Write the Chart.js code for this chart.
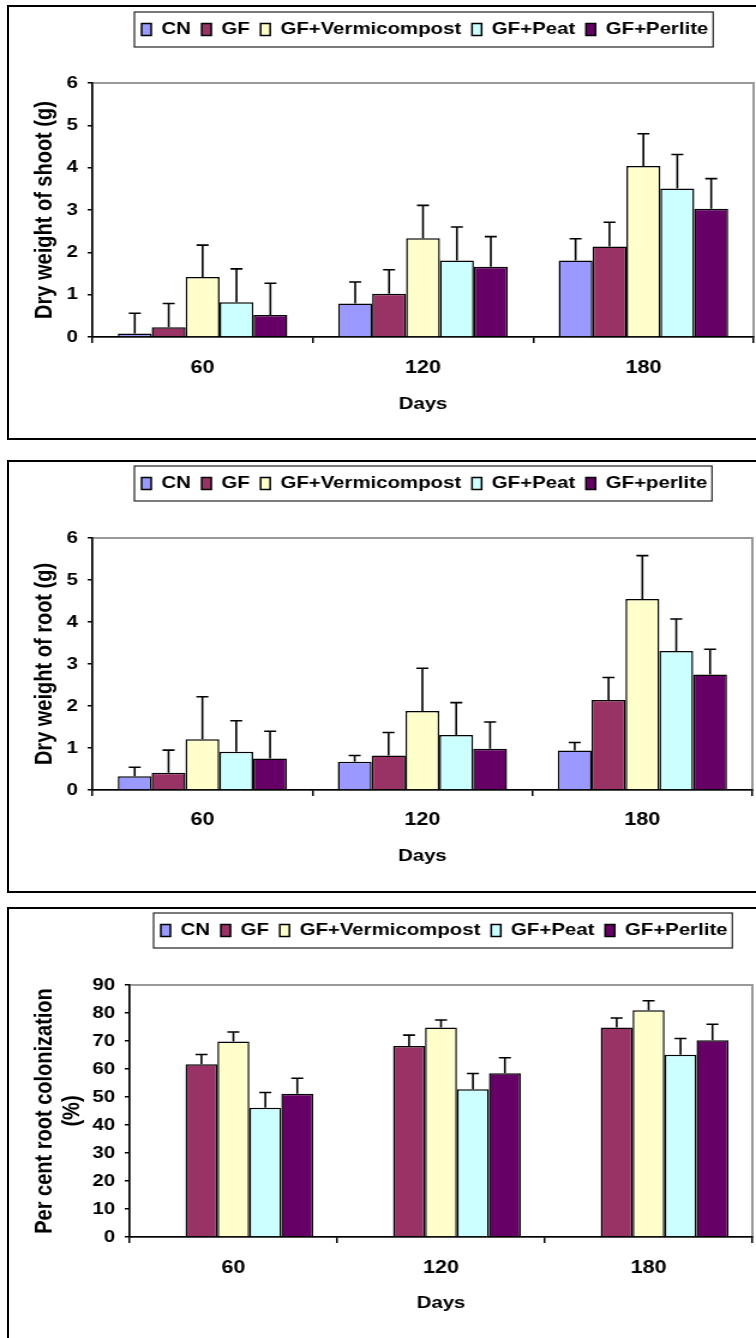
<!DOCTYPE html>
<html>
<head>
<meta charset="utf-8">
<script src="https://cdn.jsdelivr.net/npm/chart.js@4.4.1/dist/chart.umd.min.js"></script>
<style>
  html, body { margin: 0; padding: 0; background: #fff; }
  body { width: 756px; height: 1338px; overflow: hidden; position: relative; }
  .frame { position: absolute; left: 7px; width: 800px; border: 2px solid #000; box-sizing: border-box; }
  canvas { position: absolute; left: 0; }
</style>
</head>
<body>
<div class="frame" style="top:5px;height:435px"></div>
<div class="frame" style="top:460px;height:433px"></div>
<div class="frame" style="top:907px;height:500px"></div>
<!-- the original figure is stretched sideways, so each canvas is drawn narrow and widened by css -->
<canvas id="shootChart" width="630" height="440" style="top:0px;width:756px;height:440px"></canvas>
<canvas id="rootChart" width="630" height="450" style="top:445px;width:756px;height:450px"></canvas>
<canvas id="colonChart" width="630" height="443" style="top:895px;width:756px;height:443px"></canvas>
<script>
// Set Data
const days = ["60", "120", "180"];
const treatments = ["CN", "GF", "GF+Vermicompost", "GF+Peat", "GF+Perlite"];
const rootNames = ["CN", "GF", "GF+Vermicompost", "GF+Peat", "GF+perlite"];
const barColors = ["#9999FF", "#993366", "#FFFFCC", "#CCFFFF", "#660066"];

// dry weight of shoot (g), one array per treatment (60, 120, 180 days)
const shootCN = [0.08, 0.79, 1.81];
const shootGF = [0.23, 1.02, 2.14];
const shootVermi = [1.42, 2.33, 4.04];
const shootPeat = [0.82, 1.81, 3.51];
const shootPerlite = [0.52, 1.66, 3.03];
const shootErrCN = [0.48, 0.51, 0.51];
const shootErrGF = [0.56, 0.57, 0.57];
const shootErrVermi = [0.75, 0.78, 0.76];
const shootErrPeat = [0.79, 0.79, 0.8];
const shootErrPerlite = [0.75, 0.71, 0.71];

// dry weight of root (g)
const rootCN = [0.33, 0.67, 0.94];
const rootGF = [0.41, 0.82, 2.14];
const rootVermi = [1.21, 1.88, 4.55];
const rootPeat = [0.91, 1.31, 3.31];
const rootPerlite = [0.75, 0.98, 2.75];
const rootErrCN = [0.21, 0.15, 0.19];
const rootErrGF = [0.54, 0.55, 0.54];
const rootErrVermi = [1.01, 1.02, 1.03];
const rootErrPeat = [0.74, 0.77, 0.76];
const rootErrPerlite = [0.65, 0.64, 0.6];

// per cent root colonization
const colonCN = [0, 0, 0];
const colonGF = [61.7, 68.2, 74.8];
const colonVermi = [69.8, 74.8, 81.0];
const colonPeat = [46.2, 52.8, 65.1];
const colonPerlite = [51.2, 58.5, 70.3];
const colonErrCN = [0, 0, 0];
const colonErrGF = [3.5, 3.9, 3.4];
const colonErrVermi = [3.4, 2.7, 3.4];
const colonErrPeat = [5.4, 5.6, 5.8];
const colonErrPerlite = [5.5, 5.5, 5.7];

const FONT = "'Liberation Sans', Arial, sans-serif";

// error bars, legend frame and plot frame
const excelLook = {
  id: "excelLook",
  beforeLayout(chart, args, opts) {
    const lg = chart.legend;
    if (lg && !lg._fixed) {
      const fit = lg.fit.bind(lg);
      lg.fit = function () {
        fit();
        this.height = opts.legendHeight;
      };
      lg._fixed = true;
    }
  },
  afterLayout(chart, args, opts) {
    const lg = chart.legend;
    const w = lg.right - lg.left;
    lg.left = opts.legendX - lg.options.labels.padding;
    lg.right = lg.left + w;
  },
  beforeDraw(chart) {
    const a = chart.chartArea;
    const ctx = chart.ctx;
    ctx.save();
    ctx.strokeStyle = "#999999";
    ctx.lineWidth = 2;
    ctx.strokeRect(a.left, a.top, a.right - a.left, a.bottom - a.top);
    ctx.restore();
  },
  afterDatasetsDraw(chart) {
    const ctx = chart.ctx;
    const yScale = chart.scales.y;
    ctx.save();
    ctx.strokeStyle = "#000";
    ctx.lineWidth = 1.6;
    chart.data.datasets.forEach((ds, i) => {
      const meta = chart.getDatasetMeta(i);
      meta.data.forEach((bar, j) => {
        const err = ds.errors[j];
        if (!err) return;
        const top = yScale.getPixelForValue(ds.data[j] + err);
        ctx.beginPath();
        ctx.moveTo(bar.x, bar.y);
        ctx.lineTo(bar.x, top);
        ctx.moveTo(bar.x - 5, top);
        ctx.lineTo(bar.x + 5, top);
        ctx.stroke();
      });
    });
    ctx.restore();
  },
  afterDraw(chart) {
    const lg = chart.legend;
    const boxes = lg.legendHitBoxes;
    if (!boxes || !boxes.length) return;
    const pad = lg.options.labels.padding;
    const first = boxes[0];
    const last = boxes[boxes.length - 1];
    const ctx = chart.ctx;
    ctx.save();
    ctx.strokeStyle = "#222";
    ctx.lineWidth = 1.2;
    ctx.strokeRect(
      first.left - 6,
      first.top - pad,
      last.left + last.width + 4 - (first.left - 6),
      first.height + 2 * pad
    );
    ctx.restore();
  },
};

function drawPanel(id, p) {
  return new Chart(id, {
    type: "bar",
    data: {
      labels: days,
      datasets: p.names.map((name, k) => ({
        label: name,
        data: p.means[k],
        errors: p.errors[k],
        backgroundColor: barColors[k],
        borderColor: "#000",
        borderWidth: 1.5,
        categoryPercentage: 5 / 6.5,
        barPercentage: 1,
      })),
    },
    options: {
      responsive: false,
      animation: false,
      devicePixelRatio: 1,
      layout: { padding: { top: p.top, left: 0, right: p.right, bottom: 0 } },
      plugins: {
        legend: {
          position: "top",
          align: "start",
          labels: {
            color: "#000",
            boxWidth: 8,
            boxHeight: 12,
            padding: 9,
            font: { family: FONT, size: 17, weight: "bold" },
          },
        },
        tooltip: { enabled: false },
        excelLook: { legendHeight: p.legendHeight, legendX: p.legendX },
      },
      scales: {
        x: {
          afterFit(s) {
            s.height = p.axisH;
          },
          border: { color: "#000", width: 1.5 },
          grid: { drawOnChartArea: false, color: "#000", lineWidth: 1.5, tickLength: 6 },
          ticks: { color: "#000", padding: p.tickPad, font: { family: FONT, size: 18, weight: "bold" } },
          title: {
            display: true,
            text: "Days",
            color: "#000",
            font: { family: FONT, size: 17, weight: "bold" },
            padding: { top: 0, bottom: p.titlePad },
          },
        },
        y: {
          min: 0,
          max: p.max,
          afterFit(s) {
            s.width = p.axisX;
          },
          border: { color: "#000", width: 1.5 },
          grid: { drawOnChartArea: false, color: "#000", lineWidth: 1.5, tickLength: 4 },
          ticks: { stepSize: p.step, color: "#000", padding: 8, font: { family: FONT, size: 17, weight: "bold" } },
          title: {
            display: true,
            text: p.yTitle,
            color: "#000",
            font: { family: FONT, size: 20, weight: "bold", lineHeight: 1.15 },
            padding: { top: 26, bottom: 0 },
          },
        },
      },
    },
    plugins: [excelLook],
  });
}

drawPanel("shootChart", {
  names: treatments,
  means: [shootCN, shootGF, shootVermi, shootPeat, shootPerlite],
  errors: [shootErrCN, shootErrGF, shootErrVermi, shootErrPeat, shootErrPerlite],
  yTitle: "Dry weight of shoot (g)",
  max: 6, step: 1,
  top: 12, legendHeight: 71, legendX: 118, right: 2,
  axisX: 77, axisH: 103, tickPad: 14.5, titlePad: 25,
});

drawPanel("rootChart", {
  names: rootNames,
  means: [rootCN, rootGF, rootVermi, rootPeat, rootPerlite],
  errors: [rootErrCN, rootErrGF, rootErrVermi, rootErrPeat, rootErrPerlite],
  yTitle: "Dry weight of root (g)",
  max: 6, step: 1,
  top: 21, legendHeight: 72, legendX: 118, right: 3,
  axisX: 77, axisH: 105, tickPad: 13, titlePad: 28,
});

drawPanel("colonChart", {
  names: treatments,
  means: [colonCN, colonGF, colonVermi, colonPeat, colonPerlite],
  errors: [colonErrCN, colonErrGF, colonErrVermi, colonErrPeat, colonErrPerlite],
  yTitle: ["Per cent root colonization", "(%)"],
  max: 90, step: 10,
  top: 18, legendHeight: 72, legendX: 134, right: 3,
  axisX: 108, axisH: 101, tickPad: 14.5, titlePad: 24,
});
</script>
</body>
</html>
